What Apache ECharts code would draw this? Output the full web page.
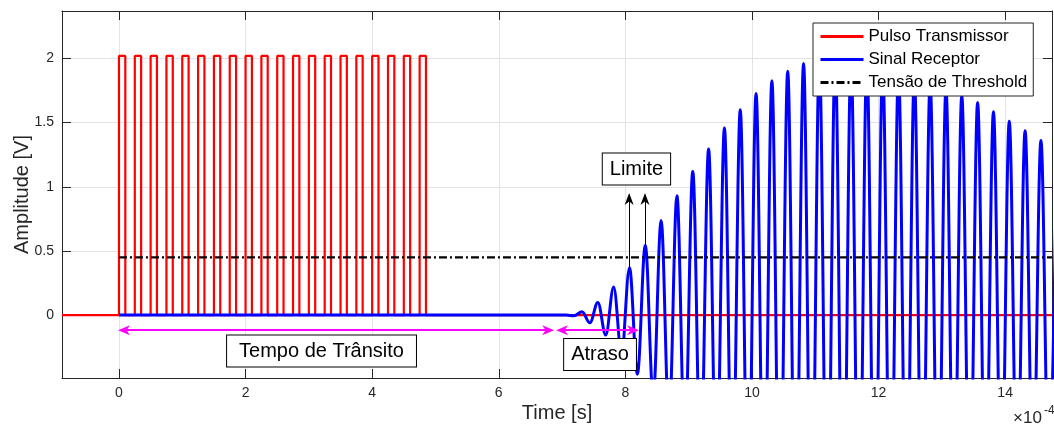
<!DOCTYPE html>
<html>
<head>
<meta charset="utf-8">
<script src="https://cdn.jsdelivr.net/npm/echarts@6/dist/echarts.min.js"></script>
<style>
  html, body { margin: 0; padding: 0; background: #ffffff; }
  #chart { width: 1054px; height: 427px; }
</style>
</head>
<body>
<div id="chart"></div>
<script>
// time in units of 1e-4 s
const xMin = -0.9;
const xMax = 14.74;
const yMin = -0.49;
const yMax = 2.37;
const xTicks = [0, 2, 4, 6, 8, 10, 12, 14];
const yTicks = [0, 0.5, 1, 1.5, 2];

// transmitter pulse train
const pulseStarts = [0, 0.25, 0.5, 0.75, 1, 1.25, 1.5, 1.75, 2, 2.25,
  2.5, 2.75, 3, 3.25, 3.5, 3.75, 4, 4.25, 4.5, 4.75];
const pulseWidth = 0.1;
const pulseHigh = 2.02;

// receiver signal: successive extremes (trough / peak), half a period apart
const rxStart = 7.065;
const rxHalfPeriod = 0.125;
const rxExtremes = [
  0, -0.005, 0.026, -0.06, 0.099, -0.155, 0.22, -0.3, 0.37, -0.46,
  0.544, -0.64, 0.738, -0.835, 0.93, -1.025, 1.12, -1.21, 1.295, -1.38,
  1.458, -1.53, 1.6, -1.665, 1.727, -1.78, 1.826, -1.865, 1.9, -1.93,
  1.96, -1.975, 1.99, -1.995, 2.0, -1.995, 1.99, -1.98, 1.97, -1.955,
  1.94, -1.92, 1.9, -1.88, 1.86, -1.835, 1.81, -1.785, 1.76, -1.735,
  1.71, -1.685, 1.657, -1.62, 1.585, -1.55, 1.51, -1.475, 1.437, -1.4,
  1.36, -1.32, 1.29
];

const thresholdLevel = 0.45;
const thresholdSpan = [0, xMax];

// annotations
const transitArrow = [0.08, 6.78];
const delayArrow = [7.0, 8.12];
const arrowLevel = -0.117;
const limitArrowX = [8.06, 8.31];
const limitArrowFrom = [0.37, 0.544];
const limitArrowTo = 0.905;
const boxTexts = ['Tempo de Trânsito', 'Atraso', 'Limite'];
const boxCoords = [[3.2, -0.28], [7.6, -0.307], [8.175, 1.138]];

const fontFamily = '"Liberation Sans", Arial, Helvetica, sans-serif';
const axisColor = '#262626';
const gridColor = '#e3e3e3';
const arrowPath = 'path://M5,0L10,12L5,8.5L0,12Z';

let txData = [[xMin, 0]];
pulseStarts.forEach(function (s) {
  txData.push([s, 0], [s, pulseHigh], [s + pulseWidth, pulseHigh], [s + pulseWidth, 0]);
});
txData.push([xMax, 0]);

let rxData = [[0, 0]];
rxExtremes.forEach(function (v, i) {
  rxData.push([rxStart + i * rxHalfPeriod, v]);
});

let thresholdData = thresholdSpan.map(function (t) { return [t, thresholdLevel]; });

function axisBase (min, max, ticks, pos, labels) {
  return {
    type: 'value',
    min: min,
    max: max,
    position: pos,
    nameMoveOverlap: false,
    axisLine: { show: true, onZero: false, lineStyle: { color: axisColor, width: 1 } },
    axisTick: { show: true, inside: true, length: 9, customValues: ticks, lineStyle: { color: axisColor } },
    axisLabel: {
      show: labels,
      customValues: ticks,
      color: axisColor,
      fontSize: 14,
      fontFamily: fontFamily,
      margin: 8
    },
    splitLine: { show: labels, lineStyle: { color: gridColor, width: 1 } }
  };
}

let xBottom = axisBase(xMin, xMax, xTicks, 'bottom', true);
xBottom.name = 'Time [s]';
xBottom.nameLocation = 'middle';
xBottom.nameGap = 25;
xBottom.nameTextStyle = { fontSize: 20, color: axisColor, fontFamily: fontFamily };

let yLeft = axisBase(yMin, yMax, yTicks, 'left', true);
yLeft.name = 'Amplitude [V]';
yLeft.nameLocation = 'middle';
yLeft.nameGap = 30;
yLeft.nameTextStyle = { fontSize: 20, color: axisColor, fontFamily: fontFamily };

let boxLabel = function (padX) {
  return {
    show: true,
    position: 'inside',
    formatter: '{b}',
    color: '#000',
    fontSize: 20,
    fontFamily: fontFamily,
    lineHeight: 22,
    backgroundColor: '#ffffff',
    borderColor: '#000000',
    borderWidth: 1,
    padding: [5, padX, 4, padX]
  };
};

let chart = echarts.init(document.getElementById('chart'));
chart.setOption({
  animation: false,
  backgroundColor: '#ffffff',
  grid: { left: 62, right: 2, top: 11, bottom: 49, containLabel: false, outerBoundsMode: 'none' },
  xAxis: [xBottom, axisBase(xMin, xMax, xTicks, 'top', false)],
  yAxis: [yLeft, axisBase(yMin, yMax, yTicks, 'right', false)],
  legend: {
    data: ['Pulso Transmissor', 'Sinal Receptor', 'Tensão de Threshold'],
    orient: 'vertical',
    left: 813,
    top: 23,
    itemWidth: 43,
    itemHeight: 14,
    itemGap: 6,
    padding: [5, 6, 5, 6],
    backgroundColor: '#ffffff',
    borderColor: '#262626',
    borderWidth: 1,
    borderRadius: 0,
    itemStyle: { opacity: 0 },
    lineStyle: { width: 3 },
    textStyle: { fontSize: 17, color: '#000', fontFamily: fontFamily }
  },
  series: [
    {
      name: 'Pulso Transmissor',
      type: 'line',
      symbol: 'none',
      data: txData,
      lineStyle: { color: '#ff0000', width: 2.2 },
      itemStyle: { color: '#ff0000' }
    },
    {
      name: 'Sinal Receptor',
      type: 'line',
      symbol: 'none',
      smooth: 0.36,
      smoothMonotone: 'x',
      data: rxData,
      lineStyle: { color: '#0000ff', width: 3 },
      itemStyle: { color: '#0000ff' }
    },
    {
      name: 'Tensão de Threshold',
      type: 'line',
      symbol: 'none',
      data: thresholdData,
      lineStyle: { color: '#000000', width: 2.2, type: [8, 3, 2, 3] },
      itemStyle: { color: '#000000' }
    },
    {
      name: 'annotations',
      type: 'line',
      data: [],
      silent: true,
      markLine: {
        silent: true,
        animation: false,
        label: { show: false },
        emphasis: { disabled: true },
        data: [
          [
            { coord: [transitArrow[0], arrowLevel], symbol: arrowPath, symbolSize: [10, 12] },
            { coord: [transitArrow[1], arrowLevel], symbol: arrowPath, symbolSize: [10, 12] }
          ],
          [
            { coord: [delayArrow[0], arrowLevel], symbol: arrowPath, symbolSize: [10, 12] },
            { coord: [delayArrow[1], arrowLevel], symbol: arrowPath, symbolSize: [10, 12] }
          ],
          [
            { coord: [limitArrowX[0], limitArrowFrom[0]], symbol: 'none' },
            { coord: [limitArrowX[0], limitArrowTo], symbol: arrowPath, symbolSize: [9, 12] }
          ],
          [
            { coord: [limitArrowX[1], limitArrowFrom[1]], symbol: 'none' },
            { coord: [limitArrowX[1], limitArrowTo], symbol: arrowPath, symbolSize: [9, 12] }
          ]
        ].map(function (pair, i) {
          let style = i < 2 ? { color: '#ff00ff', width: 2, type: 'solid' } : { color: '#000000', width: 1, type: 'solid' };
          pair[0].lineStyle = style;
          pair[1].lineStyle = style;
          return pair;
        })
      },
      markPoint: {
        silent: true,
        animation: false,
        symbol: 'rect',
        symbolSize: 1,
        itemStyle: { color: 'rgba(0,0,0,0)' },
        data: boxTexts.map(function (txt, i) {
          return { name: txt, coord: boxCoords[i], label: boxLabel(i === 0 ? 12 : 7) };
        })
      }
    }
  ],
  graphic: [
    {
      type: 'text',
      left: 1013,
      top: 410,
      style: { text: '×10', fontSize: 17, fill: axisColor, fontFamily: fontFamily }
    },
    {
      type: 'text',
      left: 1044,
      top: 405,
      style: { text: '-4', fontSize: 12, fill: axisColor, fontFamily: fontFamily }
    }
  ]
});
</script>
</body>
</html>
